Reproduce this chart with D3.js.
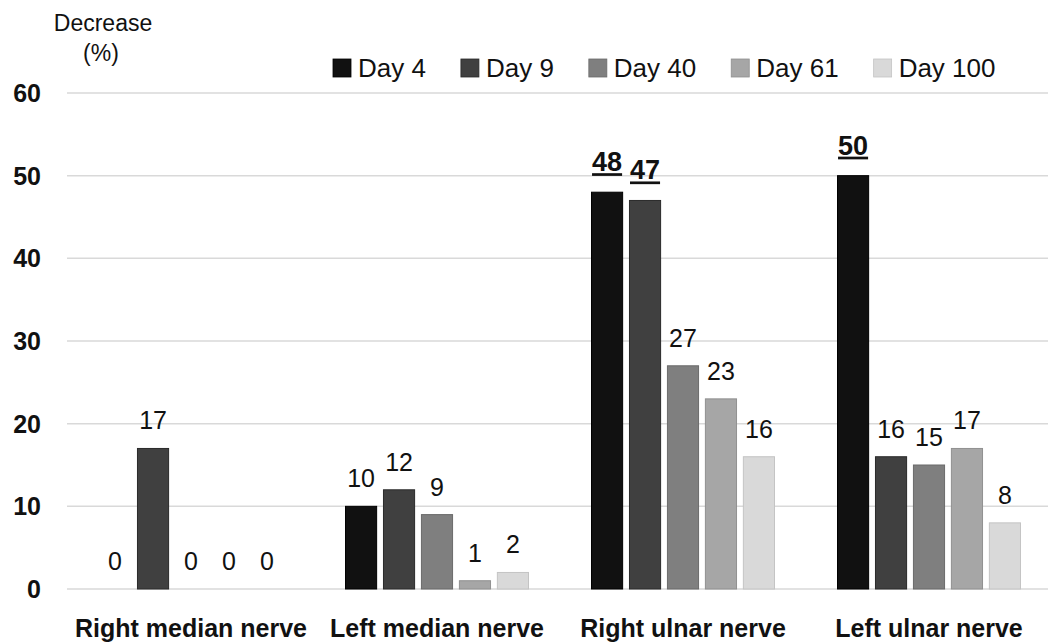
<!DOCTYPE html>
<html>
<head>
<meta charset="utf-8">
<script src="https://cdn.jsdelivr.net/npm/d3@7"></script>
<style>
  body { margin: 0; background: #fff; }
  text { font-family: "Liberation Sans", Arial, sans-serif; fill: #111; }
</style>
</head>
<body>
<div class="chart"></div>
<script>
const categories = ['Right median nerve', 'Left median nerve', 'Right ulnar nerve', 'Left ulnar nerve'];
const days = ['Day 4', 'Day 9', 'Day 40', 'Day 61', 'Day 100'];
const day4 = [0, 10, 48, 50];
const day9 = [17, 12, 47, 16];
const day40 = [0, 9, 27, 15];
const day61 = [0, 1, 23, 17];
const day100 = [0, 2, 16, 8];
// values shown bold + underlined in the original
const highlighted = [[2, 0], [2, 1], [3, 0]];
const yTicks = [0, 10, 20, 30, 40, 50, 60];

const series = [day4, day9, day40, day61, day100];
const colors = ['#111111', '#404040', '#7f7f7f', '#a6a6a6', '#d9d9d9'];
const strokes = ['#000000', '#2a2a2a', '#6a6a6a', '#909090', '#c4c4c4'];

const width = 1048, height = 644;

const svg = d3.select('.chart')
    .append('svg')
    .attr('width', width)
    .attr('height', height);

const x = d3.scaleBand()
    .domain(categories)
    .range([68, 1052]);

const xInner = d3.scaleBand()
    .domain(days)
    .range([0, x.bandwidth()])
    .paddingInner(0.18)
    .paddingOuter(0.83);

const y = d3.scaleLinear()
    .domain([0, 60])
    .range([589, 93]);

// gridlines
svg.append('g')
    .selectAll('line')
    .data(yTicks)
    .enter()
    .append('line')
    .attr('x1', 67)
    .attr('x2', 1048)
    .attr('y1', d => y(d))
    .attr('y2', d => y(d))
    .attr('stroke', '#d9d9d9')
    .attr('stroke-width', 1.5);

// y tick labels
svg.append('g')
    .selectAll('text')
    .data(yTicks)
    .enter()
    .append('text')
    .attr('x', 41)
    .attr('y', d => y(d) + 9)
    .attr('text-anchor', 'end')
    .style('font-size', '25px')
    .style('font-weight', 'bold')
    .text(d => d);

// axis title
svg.append('text')
    .attr('x', 103)
    .attr('y', 31)
    .attr('text-anchor', 'middle')
    .style('font-size', '23px')
    .text('Decrease');
svg.append('text')
    .attr('x', 101)
    .attr('y', 61)
    .attr('text-anchor', 'middle')
    .style('font-size', '23px')
    .text('(%)');

// bars
const rows = [];
categories.forEach((c, ci) => {
    days.forEach((d, di) => {
        rows.push({ cat: c, day: d, ci: ci, di: di, value: series[di][ci] });
    });
});

const isHi = r => highlighted.some(h => h[0] === r.ci && h[1] === r.di);

svg.append('g')
    .selectAll('rect')
    .data(rows.filter(r => r.value > 0))
    .enter()
    .append('rect')
    .attr('x', r => x(r.cat) + xInner(r.day))
    .attr('width', xInner.bandwidth())
    .attr('y', r => y(r.value))
    .attr('height', r => y(0) - y(r.value))
    .attr('fill', r => colors[r.di])
    .attr('stroke', r => strokes[r.di])
    .attr('stroke-width', 1);

// value labels
svg.append('g')
    .selectAll('text')
    .data(rows)
    .enter()
    .append('text')
    .attr('x', r => x(r.cat) + xInner(r.day) + xInner.bandwidth() / 2)
    .attr('y', r => y(r.value) - (isHi(r) ? 21 : 19))
    .attr('text-anchor', 'middle')
    .style('font-size', r => isHi(r) ? '27px' : '25px')
    .style('font-weight', r => isHi(r) ? 'bold' : 'normal')
    .style('text-decoration', r => isHi(r) ? 'underline' : 'none')
    .text(r => r.value);

// category labels
svg.append('g')
    .selectAll('text')
    .data(categories)
    .enter()
    .append('text')
    .attr('x', d => x(d) + x.bandwidth() / 2)
    .attr('y', 637)
    .attr('text-anchor', 'middle')
    .style('font-size', '25px')
    .style('font-weight', 'bold')
    .text(d => d);

// legend
const legend = svg.append('g');
let lx = 333;
days.forEach((d, i) => {
    legend.append('rect')
        .attr('x', lx)
        .attr('y', 59)
        .attr('width', 18)
        .attr('height', 18)
        .attr('fill', colors[i])
        .attr('stroke', strokes[i])
        .attr('stroke-width', 0.8);
    const t = legend.append('text')
        .attr('x', lx + 25)
        .attr('y', 77)
        .style('font-size', '26px')
        .text(d);
    lx += 25 + t.node().getComputedTextLength() + 35;
});
</script>
</body>
</html>
